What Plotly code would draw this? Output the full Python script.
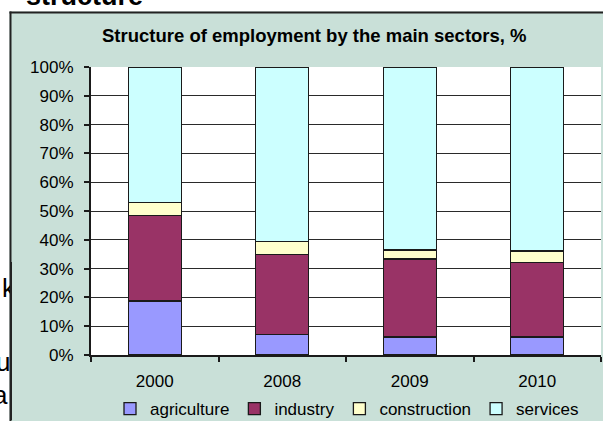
import plotly.graph_objects as go

# ---- data ----
years = ["2000", "2008", "2009", "2010"]
agriculture = [18.8, 7.0, 6.3, 6.3]
industry = [29.6, 28.0, 27.0, 25.9]
construction = [4.5, 4.4, 3.2, 3.9]
services = [47.1, 60.6, 63.5, 63.9]
series_names = ["agriculture", "industry", "construction", "services"]
series_colors = ["#9999FF", "#993366", "#FFFFCC", "#CCFFFF"]
y_ticks = list(range(0, 101, 10))
y_ticklabels = [f"{v}%" for v in y_ticks]
title_text = "Structure of employment by the main sectors, %"

# ---- geometry (pixels) ----
W, H = 603, 421
ML, MR, MT, MB = 91, 2, 67, 66
PW = W - ML - MR
PH = H - MT - MB
PBOT = H - MB

def px_x(p):
    return (p - ML) / PW

def px_y(p):
    return (PBOT - p) / PH

BOX = "#C9E0D8"
FONT = "Liberation Sans, Arial, sans-serif"

fig = go.Figure()
for name, vals, col in zip(series_names, [agriculture, industry, construction, services], series_colors):
    fig.add_trace(go.Bar(
        x=years, y=vals, name=name,
        marker=dict(color=col, line=dict(color="#1a1a1a", width=1.3)),
    ))

shapes = [
    # white outside of the chart box
    dict(type="rect", xref="paper", yref="paper", x0=px_x(-5), x1=px_x(9.5), y0=px_y(430), y1=px_y(-5),
         fillcolor="white", line=dict(width=0), layer="below"),
    dict(type="rect", xref="paper", yref="paper", x0=px_x(-5), x1=px_x(610), y0=px_y(11.5), y1=px_y(-5),
         fillcolor="white", line=dict(width=0), layer="below"),
    # box border
    dict(type="line", xref="paper", yref="paper", x0=px_x(10.5), x1=px_x(10.5), y0=px_y(430), y1=px_y(11.5),
         line=dict(color="#222222", width=2)),
    dict(type="line", xref="paper", yref="paper", x0=px_x(9.5), x1=px_x(610), y0=px_y(12.5), y1=px_y(12.5),
         line=dict(color="#222222", width=2)),
]

def ann(text, x, y, size, xanchor="left", yanchor="middle", bold=False, **kw):
    return dict(text=text, x=x, y=y, xref="paper", yref="paper", showarrow=False,
                xanchor=xanchor, yanchor=yanchor,
                font=dict(family=FONT, size=size, color="black", weight="bold" if bold else "normal"), **kw)

annotations = [
    ann("structure", px_x(24), px_y(5 - 0.3465 * 27), 27, bold=True),
    ann(title_text, px_x(314), px_y(42 - 0.3465 * 18.5), 18.5, xanchor="center", bold=True),
    # fragments of the document text behind the chart
    ann("k", px_x(0), px_y(297 - 9), 26),
    ann("ur", px_x(-6), px_y(371 - 9), 26),
    ann("a", px_x(9.5), px_y(404 - 9), 26, xanchor="right"),
    # cover strips so that the fragments look clipped by the box
    dict(text=" ", x=px_x(11.5), y=px_y(262), xref="paper", yref="paper", showarrow=False,
         xanchor="left", yanchor="top", width=16, height=158, bgcolor=BOX, borderpad=0, borderwidth=0),
    dict(text=" ", x=px_x(9.5), y=px_y(262), xref="paper", yref="paper", showarrow=False,
         xanchor="left", yanchor="top", width=2, height=158, bgcolor="#222222", borderpad=0, borderwidth=0),
]

fig.update_layout(
    width=W, height=H,
    margin=dict(l=ML, r=MR, t=MT, b=MB, pad=0, autoexpand=False),
    paper_bgcolor=BOX, plot_bgcolor="white",
    barmode="stack", bargap=0.584,
    font=dict(family=FONT, size=17, color="black"),
    shapes=shapes, annotations=annotations,
    legend=dict(orientation="h", x=px_x(347), xanchor="center", y=px_y(409), yanchor="middle",
                font=dict(family=FONT, size=17, color="black"), bgcolor="rgba(0,0,0,0)",
                traceorder="normal", itemwidth=30, itemclick=False),
    showlegend=True,
)
fig.update_xaxes(type="category", tickson="boundaries", ticks="outside", ticklen=5, tickwidth=1.5,
                 tickcolor="#1a1a1a", showline=True, linecolor="#1a1a1a", linewidth=1.5,
                 showgrid=False, tickfont=dict(family=FONT, size=17, color="black"),
                 ticklabelstandoff=10, automargin=False)
fig.update_yaxes(range=[0, 100], tickvals=y_ticks, ticktext=y_ticklabels, ticks="outside", ticklen=5,
                 tickwidth=1.5, tickcolor="#1a1a1a", showline=True, linecolor="#1a1a1a", linewidth=2,
                 showgrid=True, gridcolor="#2a2a2a", gridwidth=1, zeroline=False,
                 tickfont=dict(family=FONT, size=17, color="black"), ticklabelstandoff=7, automargin=False)

fig.write_html("out.html")
